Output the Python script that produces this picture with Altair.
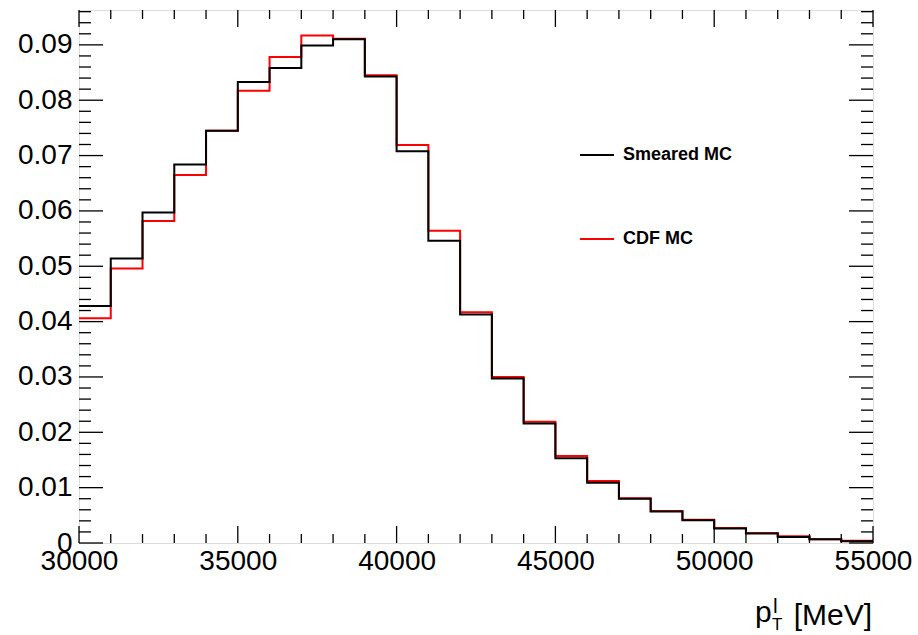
import altair as alt
import pandas as pd
import numpy as np

# ---- data ----
bin_low = [30000, 31000, 32000, 33000, 34000, 35000, 36000, 37000, 38000, 39000,
           40000, 41000, 42000, 43000, 44000, 45000, 46000, 47000, 48000, 49000,
           50000, 51000, 52000, 53000, 54000]
x_end = 55000
smeared = [0.0428, 0.0514, 0.0597, 0.0684, 0.0745, 0.0833, 0.0858, 0.0899, 0.0910, 0.0843,
           0.0708, 0.0546, 0.0413, 0.0297, 0.0216, 0.0153, 0.0109, 0.0080, 0.0057, 0.0041,
           0.0026, 0.0017, 0.0011, 0.0007, 0.0003]
cdf = [0.0406, 0.0496, 0.0582, 0.0665, 0.0745, 0.0817, 0.0878, 0.0917, 0.0911, 0.0845,
       0.0719, 0.0564, 0.0417, 0.0300, 0.0219, 0.0157, 0.0112, 0.0081, 0.0058, 0.0042,
       0.0027, 0.0018, 0.0012, 0.0007, 0.0004]
series_names = ["Smeared MC", "CDF MC"]
series_colors = ["#000000", "#ff0000"]

x_major = [30000, 35000, 40000, 45000, 50000, 55000]
x_minor = [v for v in range(30000, 55001, 1000) if v not in x_major]
y_major = [0.0, 0.01, 0.02, 0.03, 0.04, 0.05, 0.06, 0.07, 0.08, 0.09]
y_minor = [round(v, 3) for v in np.arange(0, 0.0961, 0.002) if round(v, 3) not in [round(m, 3) for m in y_major]]

X_DOMAIN = [30000, 55000]
Y_DOMAIN = [0, 0.0963]
W, H = 794, 533
FONT = "Liberation Sans"


def step_frame(vals, name):
    return pd.DataFrame({"x": bin_low + [x_end], "y": vals + [vals[-1]], "series": name})


xs = alt.Scale(domain=X_DOMAIN, nice=False, zero=False)
ys = alt.Scale(domain=Y_DOMAIN, nice=False, zero=False)
cs = alt.Scale(domain=series_names, range=series_colors)

legend = alt.Legend(
    title=None, orient="none", legendX=500, legendY=127, direction="vertical",
    symbolType="stroke", symbolSize=1156, symbolStrokeWidth=2,
    labelFont=FONT, labelFontSize=18, labelFontWeight="bold", labelColor="black",
    labelOffset=8, rowPadding=57, padding=0,
)

base_x = alt.X("x:Q", scale=xs, axis=alt.Axis(
    values=x_major, format="d", ticks=False, domain=False, grid=False, title=None,
    labelFont=FONT, labelFontSize=28, labelColor="black", labelPadding=4,
    labelFlush=False, labelOverlap=False))
base_y = alt.Y("y:Q", scale=ys, axis=alt.Axis(
    values=y_major, labelExpr="datum.value == 0 ? '0' : format(datum.value, '.2f')",
    ticks=False, domain=False, grid=False, title=None,
    labelFont=FONT, labelFontSize=28, labelColor="black", labelPadding=7,
    labelFlush=False, labelOverlap=False))

red = alt.Chart(step_frame(cdf, "CDF MC")).mark_line(
    interpolate="step-after", strokeWidth=2).encode(
    x=base_x, y=base_y,
    color=alt.Color("series:N", scale=cs, legend=legend, sort=series_names))
black = alt.Chart(step_frame(smeared, "Smeared MC")).mark_line(
    interpolate="step-after", strokeWidth=2).encode(
    x=alt.X("x:Q", scale=xs), y=alt.Y("y:Q", scale=ys),
    color=alt.Color("series:N", scale=cs, legend=legend, sort=series_names))

# ---- inward ticks (ROOT style) ----
def xticks(vals, length):
    df = pd.DataFrame({"t": vals})
    bot = alt.Chart(df).mark_rule(color="black", strokeWidth=1.3).encode(
        x=alt.X("t:Q", scale=xs), y=alt.value(H), y2=alt.value(H - length))
    top = alt.Chart(df).mark_rule(color="black", strokeWidth=1.3).encode(
        x=alt.X("t:Q", scale=xs), y=alt.value(0), y2=alt.value(length))
    return [bot, top]


def yticks(vals, length):
    df = pd.DataFrame({"t": vals})
    left = alt.Chart(df).mark_rule(color="black", strokeWidth=1.3).encode(
        y=alt.Y("t:Q", scale=ys), x=alt.value(0), x2=alt.value(length))
    right = alt.Chart(df).mark_rule(color="black", strokeWidth=1.3).encode(
        y=alt.Y("t:Q", scale=ys), x=alt.value(W - length), x2=alt.value(W))
    return [left, right]


ticks = xticks(x_major, 17) + xticks(x_minor, 9) + yticks(y_major, 24) + yticks(y_minor, 12)

# ---- x-axis title  p_T^l [MeV] ----
one = pd.DataFrame({"a": [0]})
t_p = alt.Chart(one).mark_text(text="p", font=FONT, fontSize=30, align="left",
                               baseline="alphabetic", color="black").encode(
    x=alt.value(676), y=alt.value(612))
t_sup = alt.Chart(one).mark_text(text="l", font=FONT, fontSize=21, align="left",
                                 baseline="alphabetic", color="black").encode(
    x=alt.value(694), y=alt.value(603))
t_sub = alt.Chart(one).mark_text(text="T", font=FONT, fontSize=17, align="left",
                                 baseline="alphabetic", color="black").encode(
    x=alt.value(693), y=alt.value(620))
t_unit = alt.Chart(one).mark_text(text="[MeV]", font=FONT, fontSize=30, align="right",
                                  baseline="alphabetic", color="black").encode(
    x=alt.value(793), y=alt.value(615))

chart = alt.layer(red, black, *ticks, t_p, t_sup, t_sub, t_unit).properties(
    width=W, height=H,
    autosize=alt.AutoSizeParams(type="none"),
    padding={"left": 79, "top": 10, "right": 45, "bottom": 92},
).configure_view(stroke="black", strokeWidth=1.5).configure(background="white")

chart.save("out.html", embed_options={"renderer": "svg", "actions": False})
